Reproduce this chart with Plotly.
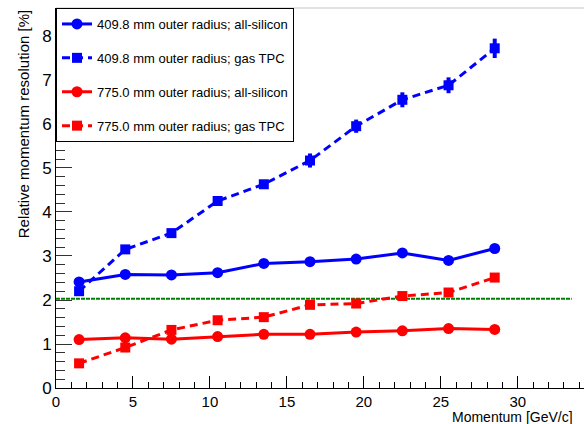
import plotly.graph_objects as go

momentum = [1.5, 4.5, 7.5, 10.5, 13.5, 16.5, 19.5, 22.5, 25.5, 28.5]
blue_si = [2.41, 2.58, 2.57, 2.62, 2.83, 2.87, 2.93, 3.07, 2.90, 3.17]
blue_tpc = [2.20, 3.15, 3.52, 4.25, 4.63, 5.17, 5.95, 6.55, 6.88, 7.72]
blue_tpc_err = [0.06, 0.06, 0.07, 0.08, 0.09, 0.16, 0.15, 0.17, 0.18, 0.22]
red_si = [1.10, 1.14, 1.11, 1.17, 1.22, 1.22, 1.27, 1.30, 1.35, 1.33]
red_tpc = [0.56, 0.92, 1.32, 1.54, 1.61, 1.89, 1.92, 2.09, 2.17, 2.51]
ref_level = 2.03
ref_x = [0, 33.5]

names = [
    "409.8 mm outer radius; all-silicon",
    "409.8 mm outer radius; gas TPC",
    "775.0 mm outer radius; all-silicon",
    "775.0 mm outer radius; gas TPC",
]

BLUE = "#0000ff"
RED = "#ff0000"
FONT = "Liberation Sans, Arial, sans-serif"

fig = go.Figure()

fig.add_trace(go.Scatter(
    x=ref_x, y=[ref_level, ref_level], mode="lines",
    line=dict(color="#008000", width=2, dash="4px,1px"),
    showlegend=False, hoverinfo="skip"))

fig.add_trace(go.Scatter(
    x=momentum, y=red_tpc, mode="lines+markers", name=names[3],
    line=dict(color=RED, width=3, dash="8px,5px"),
    marker=dict(symbol="square", size=10, color=RED),
    legendgroup="g4", legendrank=4))
fig.add_trace(go.Scatter(
    x=momentum, y=red_si, mode="lines+markers", name=names[2],
    line=dict(color=RED, width=3),
    marker=dict(symbol="circle", size=11, color=RED),
    legendgroup="g3", legendrank=3))
fig.add_trace(go.Scatter(
    x=momentum, y=blue_tpc, mode="lines+markers", name=names[1],
    line=dict(color=BLUE, width=3, dash="8px,5px"),
    marker=dict(symbol="square", size=10, color=BLUE),
    error_y=dict(type="data", array=blue_tpc_err, visible=True,
                 color=BLUE, thickness=4, width=0),
    legendgroup="g2", legendrank=2))
fig.add_trace(go.Scatter(
    x=momentum, y=blue_si, mode="lines+markers", name=names[0],
    line=dict(color=BLUE, width=3),
    marker=dict(symbol="circle", size=11, color=BLUE),
    legendgroup="g1", legendrank=1))

fig.update_layout(
    width=584, height=424,
    margin=dict(l=56, r=0, t=8, b=36),
    paper_bgcolor="white", plot_bgcolor="white",
    font=dict(family=FONT, color="black"),
    showlegend=True,
    legend=dict(
        x=0, y=1, xanchor="left", yanchor="top",
        bgcolor="white", bordercolor="black", borderwidth=1,
        font=dict(size=13, family=FONT),
        tracegroupgap=14, traceorder="grouped",
        entrywidth=224, entrywidthmode="pixels",
    ),
    xaxis=dict(
        range=[0, 34.3], showgrid=False, zeroline=False,
        showline=True, linecolor="black", linewidth=1,
        ticks="inside", ticklen=12, tickcolor="black", tickwidth=1,
        tickvals=[0, 5, 10, 15, 20, 25, 30],
        tickfont=dict(size=15),
        minor=dict(ticks="inside", ticklen=6, dtick=1, tickcolor="black", showgrid=False),
    ),
    yaxis=dict(
        range=[0, 8.636], showgrid=False, zeroline=False,
        showline=True, linecolor="black", linewidth=1,
        ticks="inside", ticklen=16, tickcolor="#333333", tickwidth=1,
        tickvals=[0, 1, 2, 3, 4, 5, 6, 7, 8],
        tickfont=dict(size=17),
        minor=dict(ticks="inside", ticklen=9, dtick=0.2, tickcolor="#333333", showgrid=False),
    ),
    shapes=[dict(type="line", xref="paper", yref="paper", x0=0, x1=1, y0=1, y1=1,
                 line=dict(color="#d8d8d8", width=1.5))],
    annotations=[
        dict(text="Relative momentum resolution [%]", xref="paper", yref="paper",
             x=-0.062, y=1.0, xanchor="center", yanchor="top", textangle=-90,
             showarrow=False, font=dict(size=15, family=FONT)),
        dict(text="Momentum [GeV/c]", xref="paper", yref="paper",
             x=0.981, y=-0.077, xanchor="right", yanchor="middle",
             showarrow=False, borderpad=0, font=dict(size=14, family=FONT)),
    ],
)

fig.write_html("out.html")
